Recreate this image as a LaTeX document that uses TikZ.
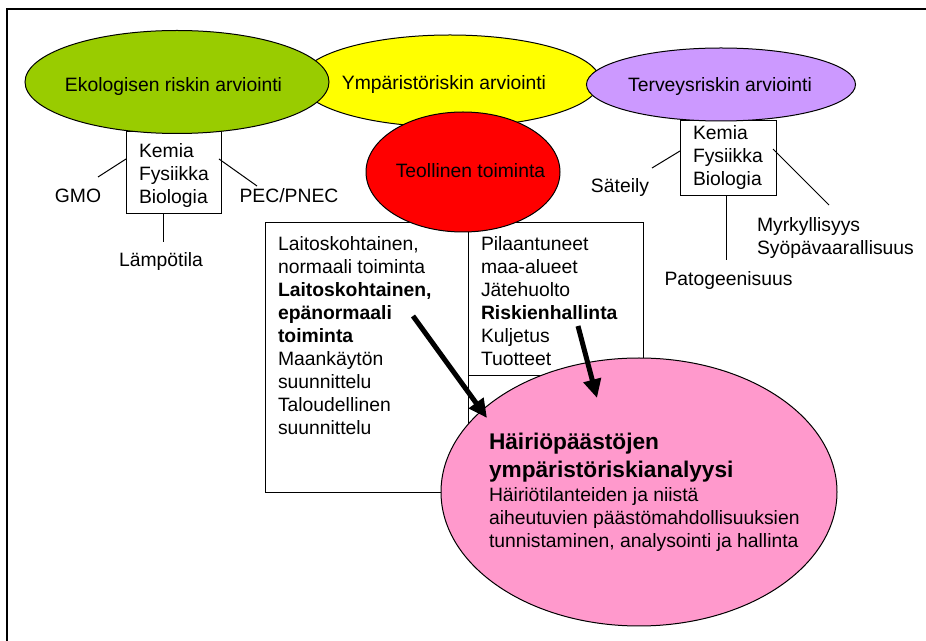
\documentclass[tikz,border=0pt]{standalone}
\usepackage{fontspec}
\setmainfont{Liberation Sans}
\usetikzlibrary{shapes.geometric,arrows.meta}
\definecolor{cgreen}{HTML}{99CC00}
\definecolor{cyellow}{HTML}{FFFF00}
\definecolor{cpurple}{HTML}{CC99FF}
\definecolor{cred}{HTML}{FF0000}
\definecolor{cpink}{HTML}{FF99CC}
\tikzset{
  oval/.style={ellipse, draw=black, line width=0.75pt, inner sep=0pt, outer sep=0pt},
  boxnode/.style={rectangle, draw=black, line width=0.75pt, fill=white, inner sep=0pt, outer sep=0pt},
  txt/.style={inner sep=0pt, outer sep=0pt, font=\fontsize{14.5}{17.3}\selectfont, align=left},
  conn/.style={draw=black, line width=0.75pt},
  bigarrow/.style={draw=black, line width=3.75pt, -{Triangle[length=14pt,width=13pt]}}
}
\begin{document}
\begin{tikzpicture}[x=0.75pt,y=-0.75pt]
\useasboundingbox (0,0) rectangle (926,641);
\fill[white] (0,0) rectangle (926,641);
% frame
\draw[line width=1.5pt] (926,9) -- (7,9) -- (7,641);
% big boxes
\node[boxnode, minimum width=152.25pt, minimum height=202.5pt] (lbox) at (366.5,358) {};
\node[boxnode, minimum width=131.25pt, minimum height=114.75pt] (rbox) at (555.5,299.5) {};
% small boxes
\node[boxnode, minimum width=71.25pt, minimum height=61.5pt] (gbox) at (173.5,173) {};
\node[boxnode, minimum width=72pt, minimum height=56.25pt] (pbox) at (728,158.5) {};
% ellipses
\node[oval, fill=cyellow, minimum width=225pt, minimum height=69pt] (yel) at (450,81) {};
\node[oval, fill=cgreen, minimum width=228pt, minimum height=77.25pt] (grn) at (177,82) {};
\node[oval, fill=cpurple, minimum width=201.75pt, minimum height=54.75pt] (pur) at (721,84.5) {};
\node[oval, fill=cred, minimum width=145.5pt, minimum height=90pt] (red) at (463,172) {};
\node[oval, fill=cpink, minimum width=297pt, minimum height=201pt] (pink) at (639,492) {};
% connector end points
\coordinate (g1a) at (126,159); \coordinate (g1b) at (98,177);
\coordinate (g2a) at (219,159); \coordinate (g2b) at (257,186);
\coordinate (g3a) at (163,214); \coordinate (g3b) at (163,242);
\coordinate (p1a) at (680,151); \coordinate (p1b) at (652,168);
\coordinate (p2a) at (773,149); \coordinate (p2b) at (829,205);
\coordinate (p3a) at (726,196); \coordinate (p3b) at (726,260);
\draw[conn] (g1a) -- (g1b);
\draw[conn] (g2a) -- (g2b);
\draw[conn] (g3a) -- (g3b);
\draw[conn] (p1a) -- (p1b);
\draw[conn] (p2a) -- (p2b);
\draw[conn] (p3a) -- (p3b);
% arrows
\coordinate (a1s) at (413,316); \coordinate (a1e) at (487,418);
\coordinate (a2s) at (578,326); \coordinate (a2e) at (597,398);
\draw[bigarrow] (a1s) -- (a1e);
\draw[bigarrow] (a2s) -- (a2e);
% texts
\node[txt, anchor=base] (tgrn) at (173.5,92) {Ekologisen riskin arviointi};
\node[txt, anchor=base] (tyel) at (444,90) {Ympäristöriskin arviointi};
\node[txt, anchor=base] (tpur) at (720,92) {Terveysriskin arviointi};
\node[txt, anchor=base] (tred) at (470.5,178) {Teollinen toiminta};
\node[txt, anchor=north west] (tgbox) at (139,143) {Kemia\\Fysiikka\\Biologia};
\node[txt, anchor=north west] (tpbox) at (693,125) {Kemia\\Fysiikka\\Biologia};
\node[txt, anchor=base] (tgmo) at (78,203) {GMO};
\node[txt, anchor=base] (tpec) at (289,203) {PEC/PNEC};
\node[txt, anchor=base] (tlamp) at (161,267) {Lämpötila};
\node[txt, anchor=base] (tsat) at (620,193) {Säteily};
\node[txt, anchor=north west] (tmyrk) at (757,217) {Myrkyllisyys\\Syöpävaarallisuus};
\node[txt, anchor=base] (tpato) at (728.5,286) {Patogeenisuus};
\node[txt, anchor=north west] (tlbox) at (278,236) {Laitoskohtainen,\\normaali toiminta\\\textbf{Laitoskohtainen,}\\\textbf{epänormaali}\\\textbf{toiminta}\\Maankäytön\\suunnittelu\\Taloudellinen\\suunnittelu};
\node[txt, anchor=north west] (trbox) at (481,236) {Pilaantuneet\\maa-alueet\\Jätehuolto\\\textbf{Riskienhallinta}\\Kuljetus\\Tuotteet};
\node[txt, anchor=north west, font=\bfseries\fontsize{17}{21}\selectfont] (tpink1) at (489,433) {Häiriöpäästöjen\\ympäristöriskianalyysi};
\node[txt, anchor=north west] (tpink2) at (489,487) {Häiriötilanteiden ja niistä\\aiheutuvien päästömahdollisuuksien\\tunnistaminen, analysointi ja hallinta};
\end{tikzpicture}
\end{document}
